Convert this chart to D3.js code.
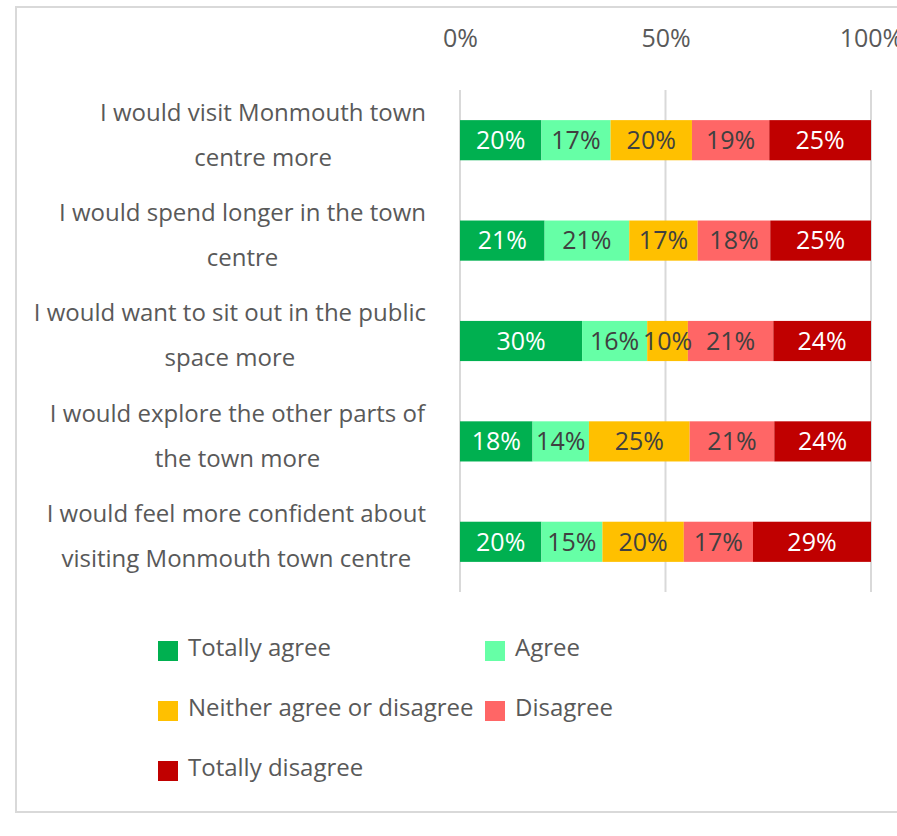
<!DOCTYPE html>
<html>
<head>
<meta charset="utf-8">
<script src="https://cdn.jsdelivr.net/npm/d3@7/dist/d3.min.js"></script>
<style>
  html, body { margin: 0; padding: 0; background: #fff; }
  svg { display: block; }
  text { font-family: "Open Sans", "Noto Sans", sans-serif; }
</style>
</head>
<body>
<script>
// Survey statements (each split over two lines)
const statements = [
  ["I would visit Monmouth town", "centre more"],
  ["I would spend longer in the town", "centre"],
  ["I would want to sit out in the public", "space more"],
  ["I would explore the other parts of", "the town more"],
  ["I would feel more confident about", "visiting Monmouth town centre"]
];
const responses = ["Totally agree", "Agree", "Neither agree or disagree", "Disagree", "Totally disagree"];
const colors = ["#00B050", "#66FFA6", "#FFC000", "#FF6666", "#C00000"];
const labelColors = ["#ffffff", "#404040", "#404040", "#404040", "#ffffff"];

// Percentages per statement, in response order
const totallyAgree    = [20, 21, 30, 18, 20];
const agree           = [17, 21, 16, 14, 15];
const neither         = [20, 17, 10, 25, 20];
const disagree        = [19, 18, 21, 21, 17];
const totallyDisagree = [25, 25, 24, 24, 29];

const axisTicks = [0, 0.5, 1];

const W = 897, H = 836;
const svg = d3.select("body").append("svg").attr("width", W).attr("height", H);

// outer frame
svg.append("rect").attr("x", 16).attr("y", 7).attr("width", 900).attr("height", 805)
  .attr("fill", "none").attr("stroke", "#d9d9d9").attr("stroke-width", 2);

const rows = statements.map((s, i) => ({
  key: i,
  [responses[0]]: totallyAgree[i],
  [responses[1]]: agree[i],
  [responses[2]]: neither[i],
  [responses[3]]: disagree[i],
  [responses[4]]: totallyDisagree[i]
}));

const stack = d3.stack().keys(responses).offset(d3.stackOffsetExpand);
const series = stack(rows);

const x = d3.scaleLinear().domain([0, 1]).range([460, 871]);
const y = d3.scaleBand().domain(d3.range(statements.length)).range([90, 592])
  .paddingInner(0.6).paddingOuter(0.3);

// vertical gridlines
svg.append("g").selectAll("line").data(axisTicks).join("line")
  .attr("x1", d => x(d)).attr("x2", d => x(d))
  .attr("y1", 90).attr("y2", 592)
  .attr("stroke", "#d9d9d9").attr("stroke-width", 2);

// top axis labels
const axis = d3.axisTop(x).tickValues(axisTicks).tickFormat(d3.format(".0%")).tickSize(0).tickPadding(0);
const ax = svg.append("g").attr("transform", "translate(0,47)").call(axis);
ax.select(".domain").remove();
ax.selectAll("text").attr("font-size", 25).attr("fill", "#595959")
  .attr("font-family", "\"Open Sans\", sans-serif").attr("dy", 0);

// stacked bars
const layer = svg.append("g").selectAll("g").data(series).join("g")
  .attr("fill", (d, i) => colors[i]);
layer.selectAll("rect").data(d => d).join("rect")
  .attr("x", d => x(d[0]))
  .attr("y", (d, i) => y(i))
  .attr("width", d => x(d[1]) - x(d[0]))
  .attr("height", y.bandwidth());

// value labels
series.forEach((s, k) => {
  svg.append("g").selectAll("text").data(s).join("text")
    .attr("x", d => (x(d[0]) + x(d[1])) / 2)
    .attr("y", (d, i) => y(i) + y.bandwidth() / 2)
    .attr("dy", "0.35em")
    .attr("text-anchor", "middle")
    .attr("font-size", 25)
    .attr("fill", labelColors[k])
    .text(d => d.data[s.key] + "%");
});

// category labels: centred two-line blocks, right edge at 426
const catG = svg.append("g");
statements.forEach((lines, i) => {
  const t = catG.append("text").attr("font-size", 24).attr("fill", "#595959")
    .attr("text-anchor", "middle");
  const cy = y(i) + y.bandwidth() / 2;
  lines.forEach((ln, j) => {
    t.append("tspan").attr("x", 0).attr("y", cy - 28 + j * 45).attr("dy", "0.35em").text(ln);
  });
  const bb = t.node().getBBox();
  t.attr("transform", `translate(${426 - bb.width / 2},0)`);
});

// legend
const legendPos = [[158, 641], [485, 641], [158, 701], [485, 701], [158, 761]];
const lg = svg.append("g").selectAll("g").data(responses).join("g")
  .attr("transform", (d, i) => `translate(${legendPos[i][0]},${legendPos[i][1]})`);
lg.append("rect").attr("width", 20).attr("height", 20).attr("fill", (d, i) => colors[i]);
lg.append("text").attr("x", 30).attr("y", 7).attr("dy", "0.35em")
  .attr("font-size", 24).attr("fill", "#595959").text(d => d);
</script>
</body>
</html>
